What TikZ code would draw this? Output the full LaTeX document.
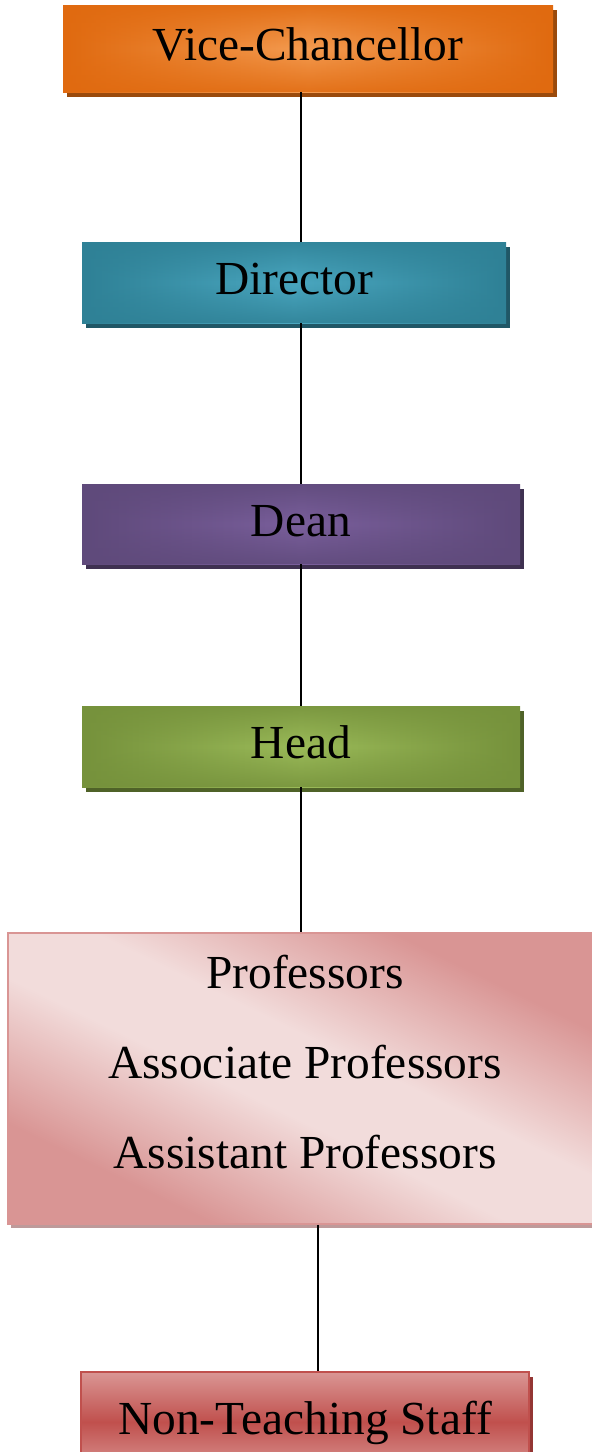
\documentclass[tikz,border=0pt]{standalone}
\usepackage{fontspec}
\setmainfont{Liberation Serif}
\usetikzlibrary{shadows,fadings}
\tikzfading[name=vedge, top color=transparent!0, bottom color=transparent!0, middle color=transparent!100]
\definecolor{vcD}{HTML}{E06A10}
\definecolor{vcL}{HTML}{F49B50}
\definecolor{vcS}{HTML}{9A4A0C}
\definecolor{dirD}{HTML}{2F8196}
\definecolor{dirL}{HTML}{4AA7C0}
\definecolor{dirS}{HTML}{205766}
\definecolor{deanD}{HTML}{5F4A7B}
\definecolor{deanL}{HTML}{7A5F9C}
\definecolor{deanS}{HTML}{3F3151}
\definecolor{headD}{HTML}{76923C}
\definecolor{headL}{HTML}{9BBB59}
\definecolor{headS}{HTML}{4F6228}
\definecolor{profD}{HTML}{D99594}
\definecolor{profL}{HTML}{F2DCDB}
\definecolor{profS}{HTML}{BE9A9A}
\definecolor{ntsD}{HTML}{C0504D}
\definecolor{ntsL}{HTML}{DA9694}
\definecolor{ntsS}{HTML}{943634}
\pgfdeclareverticalshading{profsh}{100bp}{color(0bp)=(profD); color(28bp)=(profD); color(45bp)=(profL); color(55bp)=(profL); color(72bp)=(profD); color(100bp)=(profD)}
\tikzset{
  bigtext/.style={font=\fontsize{47.4}{56}\selectfont},
  box/.style n args={3}{rectangle, inner sep=0pt, bigtext,
    drop shadow={shadow xshift=3.5pt, shadow yshift=-4.5pt, fill=#3, opacity=1},
    left color=#1, right color=#1, middle color=#2,
    postaction={fill=#1, path fading=vedge, fill opacity=0.85},
    text height=30pt, text depth=6pt},
  ptext/.style={bigtext, anchor=base, inner sep=0pt},
  conn/.style={draw=black, line width=1.5pt}
}
\begin{document}
\begin{tikzpicture}[x=1pt,y=-1pt]
\useasboundingbox (0,0) rectangle (592,1452);
\node[box={vcD}{vcL}{vcS}, minimum width=490pt, minimum height=87pt] (vc) at (308,48.5) {Vice-Chancellor};
\node[box={dirD}{dirL}{dirS}, minimum width=424pt, minimum height=81pt] (dir) at (294,282.5) {Director};
\node[box={deanD}{deanL}{deanS}, minimum width=438pt, minimum height=80pt] (dean) at (301,524) {Dean};
\node[box={headD}{headL}{headS}, minimum width=438pt, minimum height=81pt] (head) at (301,746.5) {Head};
\node[rectangle, inner sep=0pt, minimum width=592pt, minimum height=291pt,
  drop shadow={shadow xshift=3pt, shadow yshift=-3.5pt, fill=profS, opacity=1},
  shade, shading=profsh, shading angle=-26,
  draw=profD, line width=1.5pt] (prof) at (304,1078.5) {};
\node[ptext] (p1) at (305,988) {Professors};
\node[ptext] (p2) at (305,1078) {Associate Professors};
\node[ptext] (p3) at (305,1168) {Assistant Professors};
\node[rectangle, inner sep=0pt, minimum width=448pt, minimum height=100pt, bigtext,
  drop shadow={shadow xshift=3.5pt, shadow yshift=-4.5pt, fill=ntsS, opacity=1},
  top color=ntsL, bottom color=ntsL, middle color=ntsD,
  draw=ntsD, line width=1.5pt, text height=30pt, text depth=6pt] (nts) at (305,1422) {Non-Teaching Staff};
\draw[conn] (vc.south -| dean.center) -- (dir.north -| dean.center);
\draw[conn] (dir.south -| dean.center) -- (dean.north);
\draw[conn] (dean.south) -- (head.north);
\draw[conn] (head.south) -- (prof.north -| head.south);
\draw[conn] ([xshift=14pt]prof.south) -- ([xshift=14pt]prof.south |- nts.north);
\end{tikzpicture}
\end{document}
